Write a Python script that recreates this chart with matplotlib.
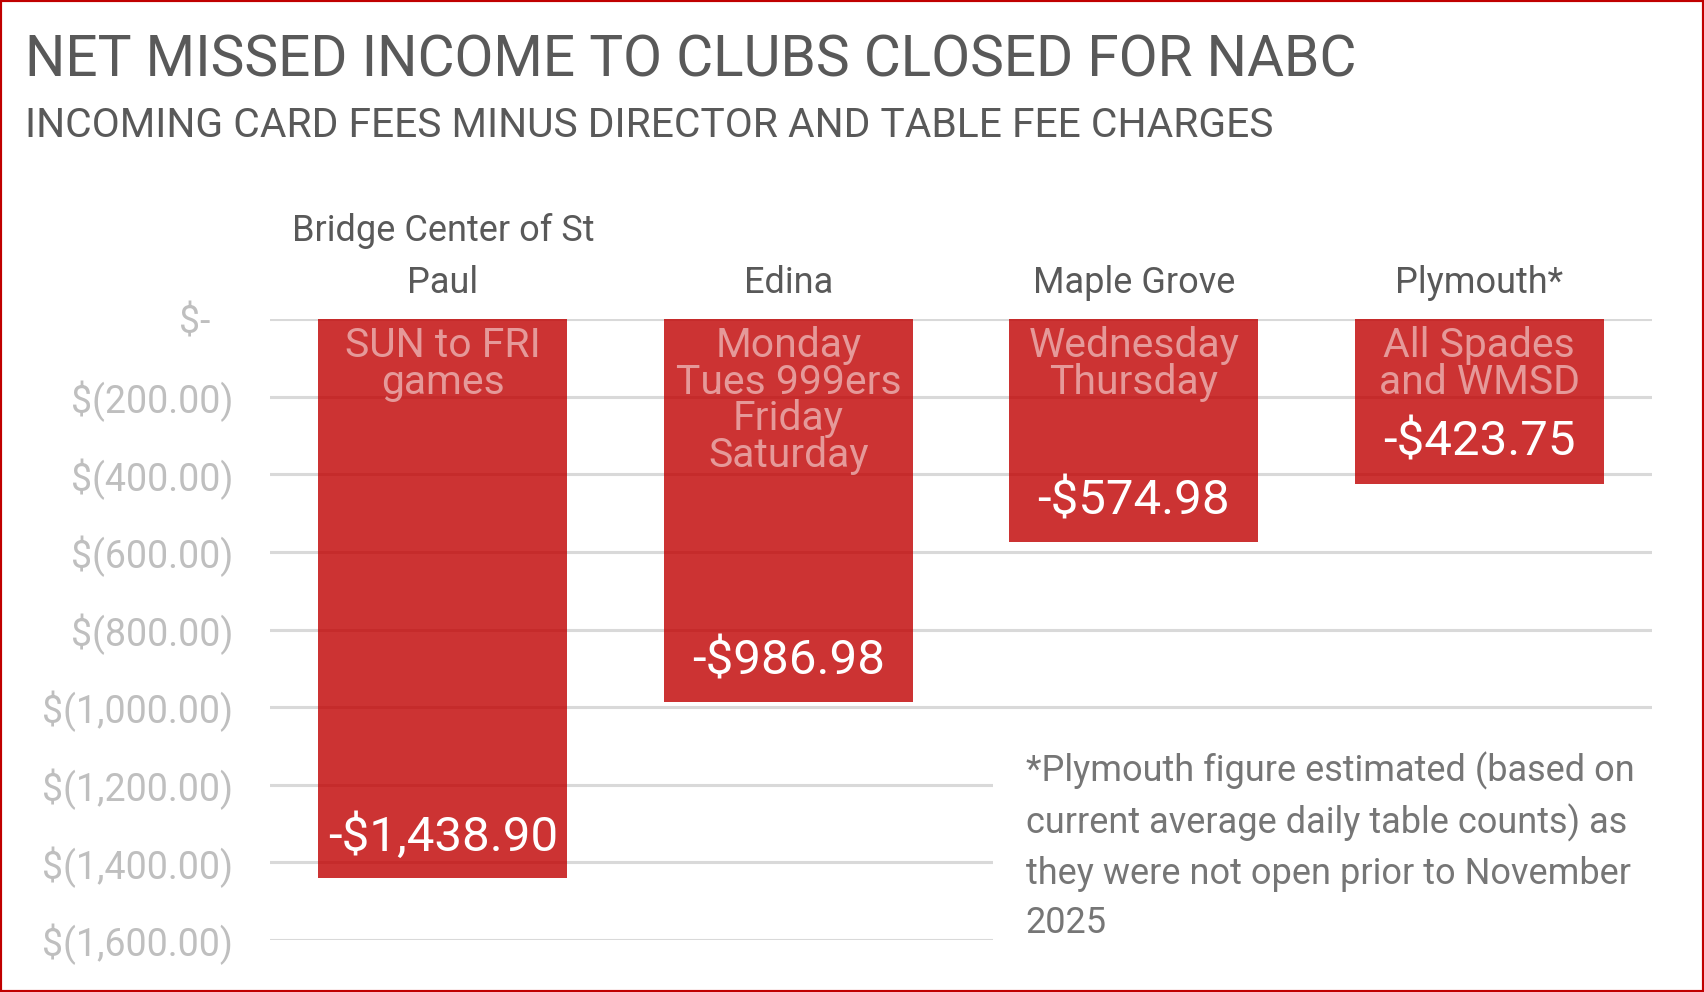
import numpy as np
import matplotlib
matplotlib.use("Agg")
import matplotlib.pyplot as plt
from matplotlib.ticker import FuncFormatter
from matplotlib.patches import Rectangle
from matplotlib.transforms import ScaledTranslation

plt.rcParams['font.family'] = ['Roboto', 'DejaVu Sans']

# data
clubs = ["Bridge Center of St\nPaul", "Edina", "Maple Grove", "Plymouth*"]
games = ["SUN to FRI\ngames", "Monday\nTues 999ers\nFriday\nSaturday",
         "Wednesday\nThursday", "All Spades\nand WMSD"]
net = [-1438.90, -986.98, -574.98, -423.75]
yticks = [0, -200, -400, -600, -800, -1000, -1200, -1400, -1600]

title = "NET MISSED INCOME TO CLUBS CLOSED FOR NABC"
subtitle = "INCOMING CARD FEES MINUS DIRECTOR AND TABLE FEE CHARGES"
note = ("*Plymouth figure estimated (based on\ncurrent average daily table counts) as\n"
        "they were not open prior to November\n2025")

fig = plt.figure(figsize=(17.04, 9.92), dpi=100)
ax = fig.add_axes([0.1585, 0.0524, 0.811, 0.6257])

x = np.arange(len(clubs))
ax.bar(x, net, width=0.72, color='#C00000', alpha=0.8, zorder=2)

ax.set_xlim(-0.5, len(clubs) - 0.5)
ax.set_ylim(-1600, 0)
ax.set_yticks(yticks)
ax.yaxis.set_major_formatter(FuncFormatter(
    lambda v, p: "$-" if v == 0 else f"$({abs(v):,.2f})"))
ax.grid(axis='y', color='#D9D9D9', linewidth=2.2)
ax.set_axisbelow(True)
ax.tick_params(axis='y', length=0, pad=26.5, labelsize=27, labelcolor='#BFBFBF')

ax.xaxis.set_ticks_position('top')
ax.set_xticks(x)
ax.set_xticklabels(clubs, linespacing=1.55)
ax.tick_params(axis='x', length=0, pad=13.5, labelsize=26, labelcolor='#595959')
for s in ax.spines.values():
    s.set_visible(False)

# accounting style: the "$-" label sits left of the others
zero_lab = ax.yaxis.get_major_ticks()[0].label1
zero_lab.set_transform(zero_lab.get_transform() + ScaledTranslation(-0.23, 0, fig.dpi_scale_trans))

for i, (g, v) in enumerate(zip(games, net)):
    ax.annotate(g, xy=(i, 0), xytext=(0, -5), textcoords='offset points',
                ha='center', va='top', fontsize=29.4, color='white', alpha=0.5,
                linespacing=0.92, zorder=3)
    ax.annotate(f"-${abs(v):,.2f}", xy=(i, v), xytext=(0, 33), textcoords='offset points',
                ha='center', va='center_baseline', fontsize=35.5, color='white', zorder=3)

fig.text(0.0147, 0.9224, title, fontsize=40.85, color='#595959', va='baseline')
fig.text(0.0147, 0.8619, subtitle, fontsize=29.3, color='#595959', va='baseline')

fig.text(0.602, 0.0595, note, fontsize=26, color='#767676', va='baseline',
         linespacing=1.475, bbox=dict(facecolor='white', edgecolor='none', pad=24))

fig.patches.append(Rectangle((0, 0), 1, 1, transform=fig.transFigure, fill=False,
                             edgecolor='#C00000', linewidth=3))

fig.savefig('out.png', dpi=100)
